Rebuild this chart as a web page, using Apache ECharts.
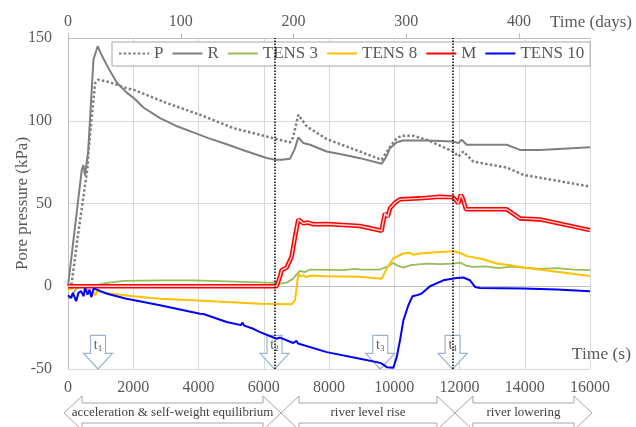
<!DOCTYPE html>
<html><head><meta charset="utf-8">
<script src="https://cdn.jsdelivr.net/npm/echarts@6/dist/echarts.min.js"></script>
<style>html,body{margin:0;padding:0;background:#fff}#c{width:636px;height:427px}</style>
</head><body><div id="c"></div>
<script>
// ---- data (time in s, pore pressure in kPa) ----
const dataP = [[0,0],[100,0],[300,30],[600,72],[620,80],[830,122.8],[930,124.8],[1290,123.2],[1800,119.6],[2000,118.8],[3025,110.7],[4046,103.6],[5070,95.5],[6090,90.5],[6805,86.9],[6900,90],[7060,103.6],[7315,96.6],[7930,88.9],[8950,81.4],[9615,76.4],[9820,82.8],[10075,89.5],[10228,90.9],[10585,90.9],[10995,88.5],[11810,81.4],[11964,78.4],[12117,81.4],[12424,75.3],[13447,71.7],[13957,67.3],[14978,63.8],[16000,60.2]];
const dataR = [[0,0],[60,0],[420,70],[470,73.3],[520,67],[620,82],[780,137],[910,145],[1000,141],[1100,137],[1290,130],[1500,123],[1800,117],[2000,114],[2310,108],[2820,101.6],[3300,97],[3840,93],[4300,89.5],[4865,85.8],[5400,82],[6090,77.5],[6354,76.4],[6550,76.4],[6805,77],[6950,83],[7060,90],[7213,86.5],[7418,85.5],[7930,81.4],[8450,79.5],[8950,77.4],[9615,74],[9750,78],[9870,83.4],[10075,87],[10280,88.1],[10995,88.1],[11810,87.5],[11964,86.5],[12067,88.5],[12220,85.5],[13447,85.5],[13855,82.4],[14467,82.4],[16000,84]];
const dataT3 = [[0,-7.5],[100,-6],[265,-1],[500,0],[780,0.3],[1200,2],[1700,3.2],[2820,3.6],[3840,3.6],[4865,3],[5885,2.4],[6350,2.1],[6498,1.6],[6700,2.2],[6905,4.6],[7000,7],[7110,9.3],[7250,8.5],[7418,10.1],[8440,9.7],[8800,10.5],[9000,10],[9563,10.1],[9800,12],[9970,14.1],[10100,12.5],[10280,11.3],[10500,12.8],[10995,13.7],[11400,13.4],[11810,13.7],[12015,14.3],[12200,12.5],[12424,11.7],[12800,12],[13200,11],[13600,11.8],[13957,11.3],[14500,10.5],[15000,11],[15500,10],[16000,9.7]];
const dataT8 = [[0,-2.4],[200,-0.5],[400,0.6],[550,-1],[650,-4],[700,-6.5],[760,-3],[850,-5.5],[900,-2],[1000,-3.5],[1290,-4.4],[2000,-6],[2820,-7.5],[3840,-8.5],[4865,-9.5],[5885,-10.5],[6855,-10.9],[6958,-8.5],[7060,7.7],[7120,6],[7213,6.7],[7300,5.5],[7450,6.5],[7930,6.1],[8950,5.7],[9615,4.6],[9770,10.7],[9970,16.8],[10280,19.8],[10483,20.2],[10600,19],[10789,19.8],[11300,20.6],[11810,21.2],[12015,20.2],[12220,18.2],[12700,16.5],[13140,13.7],[13600,12.5],[13957,11.3],[14978,8.7],[16000,6.2]];
const dataM = [[0,0],[6395,0],[6500,6],[6550,9.7],[6703,11.3],[6855,17.8],[6958,29.9],[7060,40.4],[7213,38],[7350,38.5],[7500,37.5],[7930,37.6],[8950,36.4],[9615,33.5],[9650,38],[9716,44],[9800,42],[9870,47.1],[10023,50.5],[10176,52.5],[10789,53.1],[11402,54.1],[11810,53.7],[11964,50.1],[12036,55.2],[12100,53.1],[12199,46.5],[13447,46.5],[13855,41],[14467,40.4],[16000,33.9]];
const dataT10 = [[0,-5.5],[100,-7],[150,-4],[250,-9],[320,-4],[400,-3],[480,-6],[520,-1],[600,-5],[660,-2],[720,-6.5],[780,-1.5],[880,-2],[1200,-4.5],[1645,-6.8],[1700,-6],[1760,-7.4],[2820,-11.5],[4046,-16.6],[4100,-15.5],[4150,-16.8],[4865,-21.6],[5300,-23.5],[5350,-22],[5400,-23.8],[5680,-25.7],[5885,-27.7],[6395,-31.7],[6500,-31],[6550,-31.8],[6905,-34.3],[7000,-33],[7050,-34.6],[7930,-39.8],[8950,-43.8],[9500,-46],[9550,-45],[9600,-46.5],[9770,-48.9],[9970,-49.3],[10075,-42.8],[10176,-32.7],[10280,-20.6],[10432,-11.5],[10560,-6],[10620,-7],[10687,-5.5],[10840,-4.4],[11095,0],[11504,3.6],[11913,5],[12117,5.3],[12322,3.6],[12475,-0.4],[12628,-1],[13957,-1.4],[14978,-2],[16000,-3]];
const eventTimes = [920, 6330, 9570, 11790];
const eventLabels = ['1', '2', '3', '4'];
const eventLines = [6350, 11800];
const phaseStart = [-120, 6530, 11860];
const phaseEnd = [6530, 11860, 16060];
const phaseLabels = ['acceleration & self-weight equilibrium', 'river level rise', 'river lowering'];
const xTicksSeconds = [0, 16000, 2000];
const yTicks = [-50, 150, 50];
const dayTicks = [0, 100, 200, 300, 400];
const daysMax = 16000 * 2500 / 86400;

const FONT = '"Liberation Serif", "Times New Roman", serif';
const GREY = '#595959';

const chart = echarts.init(document.getElementById('c'), null, {renderer: 'canvas'});

function line(name, data, color, width, extra) {
  return Object.assign({
    name, type: 'line', data, symbol: 'none', showSymbol: false,
    lineStyle: {color, width}, itemStyle: {color}, z: 3, animation: false
  }, extra || {});
}

const option = {
  animation: false,
  backgroundColor: '#fff',
  grid: {left: 68, right: 46, top: 38, bottom: 58, containLabel: false, outerBoundsMode: 'none'},
  legend: {
    left: 112, top: 42, itemWidth: 30, itemHeight: 12, itemGap: 8,
    padding: [3, 6, 4, 6],
    borderColor: '#a6a6a6', borderWidth: 1, backgroundColor: '#fff',
    itemStyle: {opacity: 0},
    textStyle: {fontFamily: FONT, fontSize: 17, color: GREY},
    data: ['P', 'R', 'TENS 3', 'TENS 8', 'M', 'TENS 10']
  },
  graphic: [{
    type: 'text', right: 5, top: 345, silent: true,
    style: {text: 'Time (s)', fontFamily: FONT, fontSize: 17.5, fill: GREY}
  }],
  xAxis: [{
    type: 'value', position: 'bottom', min: xTicksSeconds[0], max: xTicksSeconds[1], interval: xTicksSeconds[2],
    axisLine: {show: true, lineStyle: {color: '#bfbfbf'}},
    axisTick: {show: false},
    axisLabel: {fontFamily: FONT, fontSize: 16, color: GREY, margin: 11, formatter: v => String(v)},
    splitLine: {show: true, lineStyle: {color: '#d9d9d9'}}
  }, {
    type: 'value', position: 'top', min: 0, max: daysMax,
    name: 'Time (days)', nameLocation: 'end', nameGap: 42, nameMoveOverlap: false,
    nameTextStyle: {fontFamily: FONT, fontSize: 17, color: GREY, align: 'right', verticalAlign: 'bottom', padding: [0, 0, 7, 0]},
    axisLine: {show: true, lineStyle: {color: '#bfbfbf'}},
    axisTick: {show: true, length: 5, customValues: dayTicks, lineStyle: {color: '#bfbfbf'}},
    axisLabel: {fontFamily: FONT, fontSize: 16, color: GREY, margin: 8, customValues: dayTicks},
    splitLine: {show: false}
  }],
  yAxis: {
    type: 'value', min: yTicks[0], max: yTicks[1], interval: yTicks[2],
    name: 'Pore pressure (kPa)', nameLocation: 'middle', nameGap: 37, nameMoveOverlap: false,
    nameTextStyle: {fontFamily: FONT, fontSize: 17, color: GREY},
    axisLine: {show: true, lineStyle: {color: '#bfbfbf'}},
    axisTick: {show: false},
    axisLabel: {fontFamily: FONT, fontSize: 16, color: GREY, margin: 16},
    splitLine: {show: true, lineStyle: {color: '#d9d9d9'}}
  },
  series: [
    {
      type: 'custom', name: 'events', z: 1, clip: false, silent: true,
      data: eventTimes.map(t => [t, -50]),
      encode: {x: 0, y: 1},
      renderItem(params, api) {
        const x = api.coord([api.value(0), 0])[0];
        const yTop = api.coord([0, -29.7])[1];
        const yBase = api.coord([0, -40.6])[1];
        const yTip = api.coord([0, -50])[1];
        const bw = 7.5, hw = 14.5;
        return {type: 'group', children: [
          {type: 'polygon', shape: {points: [[x - bw, yTop], [x + bw, yTop], [x + bw, yBase], [x + hw, yBase], [x, yTip], [x - hw, yBase], [x - bw, yBase]]},
           style: {fill: 'rgba(255,255,255,0.5)', stroke: '#9fb4cc', lineWidth: 1.2}},
          {type: 'text', style: {text: '{a|t}{b|' + eventLabels[params.dataIndex] + '}', x: x, y: (yTop + yBase) / 2 + 1,
            align: 'center', verticalAlign: 'middle',
            rich: {a: {fontFamily: FONT, fontSize: 14, fill: GREY, lineHeight: 16, verticalAlign: 'middle'},
                   b: {fontFamily: FONT, fontSize: 9, fill: GREY, lineHeight: 16, verticalAlign: 'bottom'}}}}
        ]};
      }
    },
    {
      type: 'custom', name: 'phases', z: 1, clip: false, silent: true,
      data: phaseStart.map((s, i) => [s, phaseEnd[i], -50]),
      encode: {x: [0, 1], y: 2},
      renderItem(params, api) {
        const x1 = api.coord([api.value(0), -50])[0];
        const x2 = api.coord([api.value(1), -50])[0];
        const yc = api.coord([0, -50])[1] + 44;
        const hl = 18, hh = 17, bh = 10;
        return {type: 'group', children: [
          {type: 'polygon', shape: {points: [[x1, yc], [x1 + hl, yc - hh], [x1 + hl, yc - bh], [x2 - hl, yc - bh], [x2 - hl, yc - hh], [x2, yc], [x2 - hl, yc + hh], [x2 - hl, yc + bh], [x1 + hl, yc + bh], [x1 + hl, yc + hh]]},
           style: {fill: 'none', stroke: '#a6a6a6', lineWidth: 1}},
          {type: 'text', style: {text: phaseLabels[params.dataIndex], x: (x1 + x2) / 2, y: yc, align: 'center', verticalAlign: 'middle',
            fontFamily: FONT, fontSize: 13, fill: '#404040'}}
        ]};
      }
    },
    line('P', dataP, '#7f7f7f', 2.5, {lineStyle: {color: '#7f7f7f', width: 2.5, type: [2.5, 2.2]}}),
    line('R', dataR, '#7f7f7f', 2, {
      markLine: {symbol: 'none', silent: true, label: {show: false}, animation: false,
        lineStyle: {type: [1.5, 1.5], color: '#000', width: 1.5},
        data: eventLines.map(v => ({xAxis: v}))}
    }),
    line('TENS 3', dataT3, '#9bbb59', 1.8),
    line('TENS 8', dataT8, '#ffc000', 2),
    line('M', dataM, '#ff0000', 4.5),
    line('M inner', dataM, '#ffd6d6', 1.4, {z: 4, legendHoverLink: false}),
    line('TENS 10', dataT10, '#0000ff', 2)
  ]
};
chart.setOption(option);
</script>
</body></html>
